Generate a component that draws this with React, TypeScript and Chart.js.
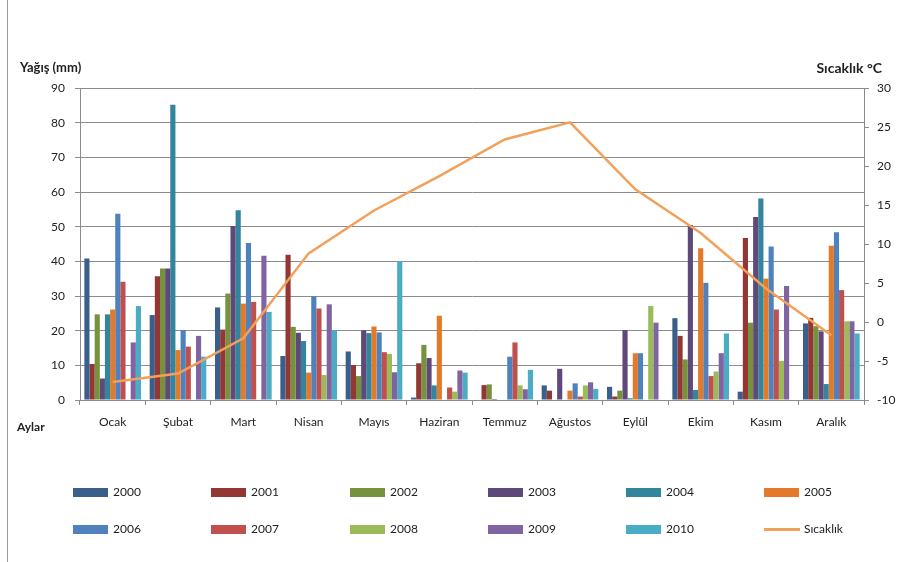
import React, { useEffect, useRef } from "react";
import { Chart, registerables } from "chart.js";

Chart.register(...registerables);

// Months on the category axis
const months = ["Ocak", "Şubat", "Mart", "Nisan", "Mayıs", "Haziran", "Temmuz", "Ağustos", "Eylül", "Ekim", "Kasım", "Aralık"];

// Monthly precipitation (mm) per year
const rain2000 = [40.8, 24.5, 26.7, 12.7, 14.0, 0.7, 0, 4.2, 3.8, 23.6, 2.4, 22.1];
const rain2001 = [10.4, 35.7, 20.3, 41.9, 10.1, 10.6, 4.3, 2.7, 1.0, 18.5, 46.7, 23.7];
const rain2002 = [24.7, 37.9, 30.7, 21.1, 6.9, 15.9, 4.5, 0, 2.7, 11.7, 22.3, 21.3];
const rain2003 = [6.2, 37.9, 50.2, 19.4, 20.1, 12.1, 0.3, 9.0, 20.2, 50.5, 52.8, 19.8];
const rain2004 = [24.7, 85.2, 54.7, 17.0, 19.3, 4.2, 0, 0, 0.5, 2.9, 58.1, 4.6];
const rain2005 = [26.1, 14.4, 27.8, 7.9, 21.2, 24.3, 0, 2.7, 13.5, 43.8, 35.0, 44.5];
const rain2006 = [53.7, 20.2, 45.3, 29.9, 19.5, 0, 12.5, 4.8, 13.5, 33.8, 44.3, 48.4];
const rain2007 = [34.1, 15.4, 28.3, 26.4, 13.8, 3.6, 16.6, 1.0, 0, 6.9, 26.1, 31.7];
const rain2008 = [0, 0, 0, 7.2, 13.3, 2.4, 4.2, 4.2, 27.1, 8.2, 11.3, 22.7];
const rain2009 = [16.6, 18.5, 41.6, 27.6, 8.0, 8.5, 3.1, 5.1, 22.3, 13.5, 32.9, 22.7];
const rain2010 = [27.1, 12.5, 25.4, 20.2, 40.1, 7.9, 8.7, 3.2, 0, 19.2, 0, 19.2];

// Mean monthly temperature (°C)
const temperature = [-7.7, -6.6, -2.1, 8.8, 14.3, 18.7, 23.4, 25.6, 17.0, 11.4, 4.3, -1.7];

const yearLabels = ["2000", "2001", "2002", "2003", "2004", "2005", "2006", "2007", "2008", "2009", "2010"];
const yearSeries = [rain2000, rain2001, rain2002, rain2003, rain2004, rain2005, rain2006, rain2007, rain2008, rain2009, rain2010];
const yearColors = [
  "#3A5F8B", "#943634", "#76923C", "#5F497A", "#31859C", "#E37A2A",
  "#4F81BD", "#C0504D", "#9BBB59", "#8064A2", "#4BACC6",
];
const tempLabel = "Sıcaklık";
const tempColor = "#F2A05A";

const FONT = "Lato, 'Open Sans', sans-serif";
const GRID = "#8c8c8c";

export default function App() {
  const canvasRef = useRef<HTMLCanvasElement | null>(null);

  useEffect(() => {
    if (!canvasRef.current) return;
    const barSets = yearLabels.map((label, i) => ({
      type: "bar" as const,
      label,
      data: yearSeries[i],
      backgroundColor: yearColors[i],
      borderWidth: 0,
      barPercentage: 1,
      categoryPercentage: 0.867,
      yAxisID: "y",
      order: 1,
    }));
    const chart = new Chart(canvasRef.current, {
      type: "bar",
      data: {
        labels: months,
        datasets: [
          ...barSets,
          {
            type: "line" as const,
            label: tempLabel,
            data: temperature,
            borderColor: tempColor,
            backgroundColor: tempColor,
            borderWidth: 2.5,
            pointRadius: 0,
            tension: 0,
            yAxisID: "y1",
            order: 0,
          },
        ] as any,
      },
      options: {
        responsive: false,
        animation: false,
        layout: { padding: { top: 88, left: 0, right: 0, bottom: 122 } },
        plugins: { legend: { display: false }, tooltip: { enabled: false } },
        scales: {
          x: {
            offset: true,
            grid: { display: true, drawOnChartArea: false, drawTicks: true, tickLength: 5, color: GRID, offset: true },
            border: { color: GRID },
            ticks: { font: { family: FONT, size: 12 }, color: "#222", padding: 10, maxRotation: 0 },
            afterFit: (s: any) => { s.height = 40; },
          },
          y: {
            position: "left",
            min: 0,
            max: 90,
            ticks: { stepSize: 10, font: { family: FONT, size: 12 }, color: "#222", padding: 10 },
            grid: { color: GRID, tickLength: 5 },
            border: { color: GRID },
            afterFit: (s: any) => { s.width = 80; },
          },
          y1: {
            position: "right",
            min: -10,
            max: 30,
            ticks: { stepSize: 5, font: { family: FONT, size: 12 }, color: "#222", padding: 8 },
            grid: { drawOnChartArea: false, tickLength: 5, color: GRID },
            border: { color: GRID },
            afterFit: (s: any) => { s.width = 47; },
          },
        },
      } as any,
    });
    return () => chart.destroy();
  }, []);

  const legendCols = [73, 211, 350, 488, 626, 764];
  const legendRows = [492, 529];
  const legendItems = [
    ...yearLabels.map((label, i) => ({ label, color: yearColors[i], line: false })),
    { label: tempLabel, color: tempColor, line: true },
  ];

  const textBase: React.CSSProperties = {
    position: "absolute",
    fontFamily: FONT,
    color: "#222",
    whiteSpace: "nowrap",
    lineHeight: "16px",
  };

  return (
    <div style={{ position: "absolute", left: 0, top: 0, width: 911, height: 562, background: "#fff", overflow: "hidden" }}>
      <div style={{ position: "absolute", left: 7, top: 0, width: 1, height: 562, background: "#9a9a9a" }} />
      <canvas ref={canvasRef} width={911} height={562} style={{ position: "absolute", left: 0, top: 0 }} />
      <span style={{ ...textBase, left: 20, top: 59, fontSize: 13, fontWeight: 700 }}>Yağış (mm)</span>
      <span style={{ ...textBase, right: 29, top: 60, fontSize: 14, fontWeight: 700 }}>Sıcaklık °C</span>
      <span style={{ ...textBase, left: 17, top: 419, fontSize: 12, fontWeight: 700 }}>Aylar</span>
      {legendItems.map((item, idx) => {
        const col = idx % 6;
        const row = Math.floor(idx / 6);
        const x = legendCols[col];
        const cy = legendRows[row];
        return (
          <React.Fragment key={item.label}>
            {item.line ? (
              <div style={{ position: "absolute", left: x, top: cy - 1, width: 36, height: 2.5, background: item.color }} />
            ) : (
              <div style={{ position: "absolute", left: x, top: cy - 4, width: 35, height: 9, background: item.color }} />
            )}
            <span style={{ ...textBase, left: x + 40, top: cy - 8, fontSize: 12 }}>{item.label}</span>
          </React.Fragment>
        );
      })}
    </div>
  );
}
